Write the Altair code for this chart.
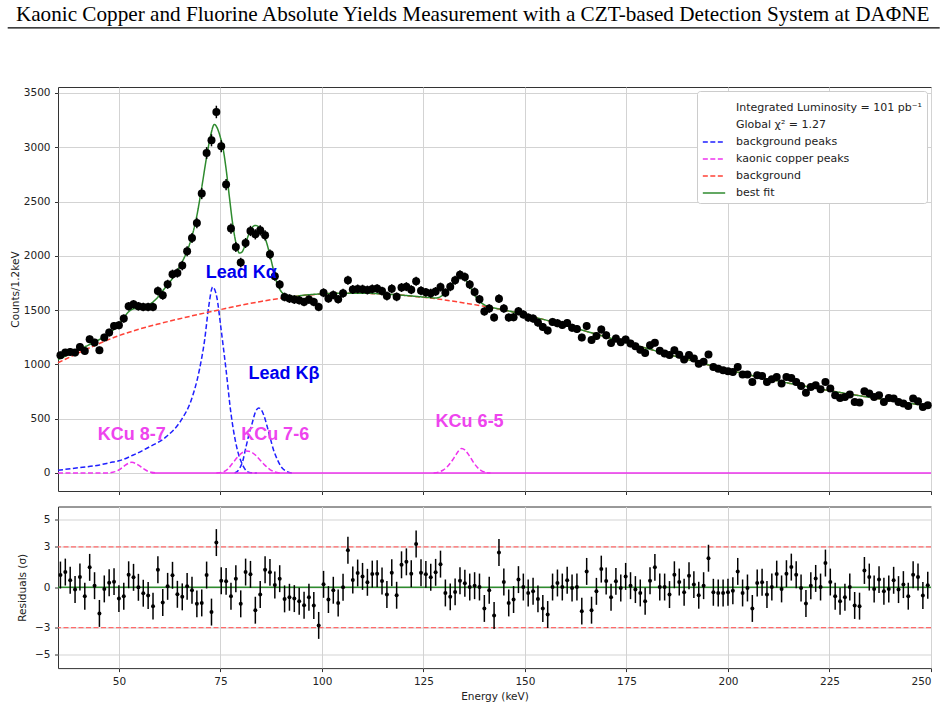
import altair as alt
import pandas as pd

# ---------------- data ----------------
energy = [35.6, 36.8, 38.0, 39.2, 40.4, 41.6, 42.8, 44.0, 45.2, 46.4,
          47.6, 48.8, 50.0, 51.2, 52.4, 53.6, 54.8, 56.0, 57.2, 58.4,
          59.6, 60.8, 62.0, 63.2, 64.4, 65.6, 66.8, 68.0, 69.2, 70.4,
          71.6, 72.8, 74.0, 75.2, 76.4, 77.6, 78.8, 80.0, 81.2, 82.4,
          83.6, 84.8, 86.0, 87.2, 88.4, 89.6, 90.8, 92.0, 93.2, 94.4,
          95.6, 96.8, 98.0, 99.2, 100.4, 101.6, 102.8, 104.0, 105.2, 106.4,
          107.6, 108.8, 110.0, 111.2, 112.4, 113.6, 114.8, 116.0, 117.2, 118.4,
          119.6, 120.8, 122.0, 123.2, 124.4, 125.6, 126.8, 128.0, 129.2, 130.4,
          131.6, 132.8, 134.0, 135.2, 136.4, 137.6, 138.8, 140.0, 141.2, 142.4,
          143.6, 144.8, 146.0, 147.2, 148.4, 149.6, 150.8, 152.0, 153.2, 154.4,
          155.6, 156.8, 158.0, 159.2, 160.4, 161.6, 162.8, 164.0, 165.2, 166.4,
          167.6, 168.8, 170.0, 171.2, 172.4, 173.6, 174.8, 176.0, 177.2, 178.4,
          179.6, 180.8, 182.0, 183.2, 184.4, 185.6, 186.8, 188.0, 189.2, 190.4,
          191.6, 192.8, 194.0, 195.2, 196.4, 197.6, 198.8, 200.0, 201.2, 202.4,
          203.6, 204.8, 206.0, 207.2, 208.4, 209.6, 210.8, 212.0, 213.2, 214.4,
          215.6, 216.8, 218.0, 219.2, 220.4, 221.6, 222.8, 224.0, 225.2, 226.4,
          227.6, 228.8, 230.0, 231.2, 232.4, 233.6, 234.8, 236.0, 237.2, 238.4,
          239.6, 240.8, 242.0, 243.2, 244.4, 245.6, 246.8, 248.0, 249.2]

counts = [1084, 1109, 1115, 1109, 1161, 1124, 1231, 1201, 1130, 1247,
          1293, 1354, 1360, 1422, 1535, 1554, 1535, 1529, 1529, 1529,
          1676, 1636, 1738, 1830, 1842, 1910, 2042, 2164, 2303, 2573,
          2947, 3064, 3325, 3009, 2656, 2251, 2081, 1938, 2118, 2229,
          2198, 2235, 2189, 2014, 1812, 1735, 1621, 1606, 1597, 1591,
          1575, 1597, 1575, 1529, 1660, 1608, 1640, 1600, 1655, 1775,
          1690, 1695, 1693, 1685, 1695, 1698, 1675, 1630, 1697, 1622,
          1708, 1716, 1688, 1766, 1678, 1664, 1655, 1672, 1712, 1660,
          1715, 1775, 1825, 1805, 1735, 1668, 1600, 1488, 1514, 1432,
          1605, 1514, 1431, 1435, 1490, 1460, 1431, 1422, 1385, 1345,
          1312, 1391, 1380, 1364, 1381, 1338, 1325, 1248, 1354, 1225,
          1262, 1321, 1268, 1197, 1238, 1205, 1229, 1192, 1167, 1136,
          1105, 1176, 1200, 1125, 1100, 1086, 1130, 1090, 1045, 1086,
          1054, 1006, 1025, 1091, 976, 960, 946, 937, 930, 976,
          906, 906, 838, 900, 893, 838, 863, 884, 823, 884,
          875, 838, 801, 740, 792, 808, 771, 838, 777, 716,
          691, 700, 722, 654, 648, 752, 731, 700, 716, 654,
          691, 685, 654, 639, 617, 685, 660, 608, 623]

residuals = [0.91, 1.13, 0.52, -0.17, 0.76, -0.66, 1.48, 0.12, -1.94, -0.12,
             0.34, 0.42, -0.84, -0.66, 0.93, 0.74, 0.00, -0.44, -0.61, -1.40,
             1.30, -1.13, 0.07, 0.89, -0.52, -0.71, 0.07, -0.22, -1.23, -1.16,
             0.91, -1.84, 3.32, 0.49, 0.44, -0.66, 0.64, -1.23, 1.13, 0.96,
             -1.70, -0.54, 1.30, 1.11, 0.17, 0.64, -0.86, -0.74, -0.84, -1.03,
             -1.33, -0.74, -1.35, -2.83, 0.22, -0.91, -0.22, -1.16, 0.00, 2.75,
             0.54, 1.06, 0.81, 0.37, 0.98, 1.01, 0.47, -0.54, 1.08, -0.59,
             1.67, 1.89, 1.01, 3.22, 1.08, 0.96, 0.74, 1.11, 1.72, -0.42,
             -0.71, -0.34, 0.49, 0.30, 0.02, 0.12, 0.02, -1.57, -0.22, -2.09,
             2.58, 0.39, -1.16, -0.91, 0.57, 0.02, -0.42, -0.30, -0.86, -1.57,
             -2.02, 0.02, 0.32, 0.02, 0.52, -0.05, 0.02, -1.77, 1.18, -1.70,
             -0.30, 1.35, 0.47, -0.74, 0.44, -0.05, 0.81, 0.12, -0.17, -0.42,
             -1.03, 0.49, 1.48, 0.02, 0.02, -0.54, 0.93, 0.39, -0.37, 0.86,
             0.20, -0.59, 0.12, 2.16, -0.37, -0.42, -0.42, -0.37, -0.25, 1.18,
             -0.42, -0.05, -1.57, 0.32, 0.37, -0.54, 0.02, 0.98, -0.12, 1.01,
             1.50, 0.93, -0.05, -1.20, 0.12, 0.66, 0.02, 1.80, 0.39, -0.66,
             -1.03, -0.74, 0.02, -1.35, -1.40, 1.25, 0.76, -0.12, 0.57, -0.30,
             -0.12, 0.52, -0.17, 0.20, -0.66, 0.93, 0.76, -0.61, 0.15]

# fitted curves
bg_E = [35, 40, 45, 50, 55, 60, 65, 70, 75, 80, 85, 90, 95, 100, 105, 110, 115,
        120, 125, 130, 135, 140, 145, 150, 155, 160, 165, 170, 175, 180, 185,
        190, 195, 200, 205, 210, 215, 220, 225, 230, 235, 240, 245, 250]
bg_c = [1015, 1105, 1190, 1265, 1325, 1375, 1421, 1464, 1505, 1545, 1580, 1610,
        1633, 1648, 1655, 1655, 1648, 1636, 1618, 1595, 1566, 1535, 1500, 1456,
        1410, 1358, 1306, 1253, 1200, 1148, 1095, 1045, 997, 950, 905, 865, 827,
        792, 758, 726, 696, 667, 640, 613]

fit_E = [35, 37.5, 40, 42.5, 45, 47.5, 50, 51.2, 52.4, 53.6, 54.8, 56, 57.2, 58.4,
         59.6, 60.8, 62, 63.2, 64.4, 65.6, 66.8, 68, 69.2, 70.4, 71.6, 72.6, 73.5,
         74.3, 75.0, 75.6, 76.4, 77.2, 78.0, 78.6, 79.2, 79.7, 80.3, 81.0, 81.8,
         82.7, 83.6, 84.5, 85.5, 86.3, 87.1, 88.0, 88.7, 89.5, 90.4, 91.5, 93, 95,
         100, 105, 110, 115, 120, 125, 127, 128, 129, 130, 131, 132, 133, 134,
         134.5, 135.3, 136.3, 137.3, 138.3, 139.3, 140.3, 141.5, 143, 145, 150,
         155, 160, 165, 170, 175, 180, 185, 190, 195, 200, 205, 210, 215, 220,
         225, 230, 235, 240, 245, 250]
fit_c = [1045, 1088, 1133, 1178, 1225, 1280, 1370, 1430, 1485, 1512, 1518, 1528,
         1545, 1575, 1620, 1678, 1735, 1792, 1864, 1945, 2045, 2180, 2370, 2630,
         2910, 3110, 3210, 3170, 3090, 3000, 2800, 2545, 2300, 2160, 2060, 2025,
         2035, 2090, 2180, 2255, 2280, 2265, 2205, 2130, 2020, 1880, 1775, 1700,
         1652, 1628, 1625, 1635, 1650, 1656, 1656, 1649, 1637, 1620, 1614, 1612,
         1620, 1645, 1682, 1730, 1775, 1798, 1800, 1780, 1728, 1660, 1602, 1565,
         1543, 1528, 1515, 1500, 1456, 1410, 1358, 1306, 1253, 1200, 1148, 1095,
         1045, 997, 950, 905, 865, 827, 792, 758, 726, 696, 667, 640, 613]

ka_E = [35, 40, 45, 48.5, 50, 53.4, 57.5, 61.6, 65.3, 67.8, 69.8, 71.1, 72.1,
        73.1, 74.1, 75.2, 76.4, 77.6, 79.0, 80.5, 82.1, 84]
ka_c = [25, 48, 72, 101, 112, 163, 240, 332, 485, 670, 946, 1222, 1529,
        1713, 1621, 1314, 946, 547, 240, 71, 5, 0]

kb_E = [78.5, 79.7, 80.5, 81.3, 82.0, 82.8, 83.6, 84.4, 85.1, 85.8, 86.5, 87.2,
        88.1, 89.1, 90.1, 91.1, 92.6]
kb_c = [0, 40, 110, 240, 350, 455, 560, 599, 580, 520, 430, 332, 210, 117, 50,
        18, 0]

cu87_E = [35, 47.5, 48.5, 49.5, 50.5, 51.5, 52.5, 53.2, 54.0, 55.0, 56.0, 57.0,
          58.0, 59.3]
cu87_c = [0, 0, 6, 18, 40, 70, 92, 98, 90, 68, 40, 18, 6, 0]

cu76_E = [74.0, 75.5, 76.8, 78.0, 79.2, 80.3, 81.4, 82.5, 83.6, 84.8, 86.0,
          87.2, 88.4, 89.6]
cu76_c = [0, 8, 35, 90, 145, 185, 203, 195, 165, 118, 70, 32, 10, 0]

cu65_E = [127.5, 128.7, 129.8, 130.8, 131.8, 132.8, 133.7, 134.4, 135.2, 136.2,
          137.2, 138.2, 139.2, 140.3, 141.5]
cu65_c = [0, 8, 25, 55, 100, 155, 205, 225, 212, 165, 105, 55, 22, 6, 0]

zero_E = [58, 250]
zero_c = [0, 0]

ann_blue_text = ["Lead K\u03b1", "Lead K\u03b2"]
ann_blue_E = [71.4, 81.9]
ann_blue_c = [1793, 866]
ann_mag_text = ["KCu 8-7", "KCu 7-6", "KCu 6-5"]
ann_mag_E = [44.8, 80.1, 128.0]
ann_mag_c = [301, 301, 424]

resid_lines = [3, -3]
header_text = ("Kaonic Copper and Fluorine Absolute Yields Measurement with a "
               "CZT-based Detection System at DA\u03a6NE")
info_lines = ["Integrated Luminosity = 101 pb\u207b\u00b9", "Global \u03c7\u00b2 = 1.27"]

# ---------------- styling ----------------
BLUE = "#1f1fff"
MAG = "#ee33ee"
RED = "#ff4136"
GREEN = "#2e8b2e"
series_domain = info_lines + ["background peaks", "kaonic copper peaks",
                              "background", "best fit"]
series_colors = ["transparent", "transparent", BLUE, MAG, RED, GREEN]
series_dash = [[1, 0], [1, 0], [5, 2.5], [5, 2.5], [5, 2.5], [1, 0]]

W = 873
H_TOP = 404
H_BOT = 161.6

xticks = [50, 75, 100, 125, 150, 175, 200, 225, 250]
xscale = alt.Scale(domain=[35, 250], nice=False, zero=False)
yscale = alt.Scale(domain=[-166, 3555], nice=False, zero=False)
rscale = alt.Scale(domain=[-6, 6], nice=False, zero=False)

x_top_axis = alt.Axis(values=xticks, labels=False, title=None, grid=True,
                      tickSize=3.5)
y_top_axis = alt.Axis(values=[0, 500, 1000, 1500, 2000, 2500, 3000, 3500],
                      format="d", title="Counts/1.2keV", grid=True,
                      labelPadding=4.5, titlePadding=3, tickSize=3.5)

legend = alt.Legend(title=None, orient="top-right", offset=4)


def curve(name, series, E, c):
    return pd.DataFrame({"E": E, "c": c, "series": series, "curve": name})


peaks_df = pd.concat([
    curve("ka", "background peaks", ka_E, ka_c),
    curve("kb", "background peaks", kb_E, kb_c),
    curve("cu87", "kaonic copper peaks", cu87_E, cu87_c),
    curve("cu76", "kaonic copper peaks", cu76_E, cu76_c),
    curve("cu65", "kaonic copper peaks", cu65_E, cu65_c),
], ignore_index=True)
bg_df = curve("bg", "background", bg_E, bg_c)
fit_df = curve("fit", "best fit", fit_E, fit_c)
zero_df = pd.DataFrame({"E": zero_E, "c": zero_c})
spec_df = pd.DataFrame({"E": energy, "c": counts})
res_df = pd.DataFrame({"E": energy, "r": residuals})


def line_layer(df):
    return alt.Chart(df).mark_line(strokeWidth=1.5, interpolate="monotone").encode(
        x=alt.X("E:Q", scale=xscale, axis=x_top_axis),
        y=alt.Y("c:Q", scale=yscale, axis=y_top_axis),
        color=alt.Color("series:N",
                        scale=alt.Scale(domain=series_domain, range=series_colors),
                        legend=legend),
        strokeDash=alt.StrokeDash("series:N",
                                  scale=alt.Scale(domain=series_domain, range=series_dash),
                                  legend=legend),
        detail="curve:N",
    )


header = alt.Chart(pd.DataFrame({"t": [header_text]})).mark_text(
    font="Liberation Serif", fontSize=21.2, align="center", baseline="alphabetic",
    color="black"
).encode(x=alt.value(414.7), y=alt.value(-65.7), text="t:N")

header_rule = alt.Chart(pd.DataFrame({"a": [0]})).mark_rule(
    color="black", strokeWidth=1.2
).encode(x=alt.value(-50.3), x2=alt.value(881.7), y=alt.value(-59.2))

zero_line = alt.Chart(zero_df).mark_line(color=MAG, strokeWidth=1.5).encode(
    x=alt.X("E:Q", scale=xscale, axis=x_top_axis),
    y=alt.Y("c:Q", scale=yscale, axis=y_top_axis),
)

err_top = alt.Chart(spec_df).transform_calculate(
    lo="datum.c - sqrt(datum.c)", hi="datum.c + sqrt(datum.c)"
).mark_rule(color="black", strokeWidth=1.5).encode(
    x=alt.X("E:Q", scale=xscale, axis=x_top_axis),
    y=alt.Y("lo:Q", scale=yscale, axis=y_top_axis),
    y2="hi:Q",
)

pts_top = alt.Chart(spec_df).mark_circle(size=64, color="black", opacity=1).encode(
    x=alt.X("E:Q", scale=xscale, axis=x_top_axis),
    y=alt.Y("c:Q", scale=yscale, axis=y_top_axis),
)

ann_blue = alt.Chart(pd.DataFrame({"E": ann_blue_E, "c": ann_blue_c, "t": ann_blue_text})).mark_text(
    font="Liberation Sans", fontWeight="bold", fontSize=18, align="left",
    baseline="alphabetic", color="#0000ee"
).encode(x=alt.X("E:Q", scale=xscale, axis=x_top_axis),
         y=alt.Y("c:Q", scale=yscale, axis=y_top_axis), text="t:N")

ann_mag = alt.Chart(pd.DataFrame({"E": ann_mag_E, "c": ann_mag_c, "t": ann_mag_text})).mark_text(
    font="Liberation Sans", fontWeight="bold", fontSize=18, align="left",
    baseline="alphabetic", color="#ee44ee"
).encode(x=alt.X("E:Q", scale=xscale, axis=x_top_axis),
         y=alt.Y("c:Q", scale=yscale, axis=y_top_axis), text="t:N")

top = alt.layer(
    header, header_rule,
    line_layer(peaks_df), line_layer(bg_df), zero_line, line_layer(fit_df),
    err_top, pts_top, ann_blue, ann_mag,
).properties(width=W, height=H_TOP)

# ---------------- residual panel ----------------
x_bot_axis = alt.Axis(values=xticks, title="Energy (keV)", grid=True,
                      tickSize=3.5, labelPadding=5, titlePadding=4)
y_bot_axis = alt.Axis(values=[-5, -3, 0, 3, 5], title="Residuals (\u03c3)", grid=True,
                      tickSize=3.5, labelPadding=4.5, titlePadding=7)

ref3 = alt.Chart(pd.DataFrame({"r": resid_lines})).mark_rule(
    color="#ff6a6a", strokeDash=[5, 2.5], strokeWidth=1.3
).encode(y=alt.Y("r:Q", scale=rscale, axis=y_bot_axis))

ref0 = alt.Chart(pd.DataFrame({"r": [0]})).mark_rule(
    color=GREEN, strokeWidth=1.5
).encode(y=alt.Y("r:Q", scale=rscale, axis=y_bot_axis))

err_bot = alt.Chart(res_df).transform_calculate(
    lo="datum.r - 1", hi="datum.r + 1"
).mark_rule(color="black", strokeWidth=1.5).encode(
    x=alt.X("E:Q", scale=xscale, axis=x_bot_axis),
    y=alt.Y("lo:Q", scale=rscale, axis=y_bot_axis),
    y2="hi:Q",
)

pts_bot = alt.Chart(res_df).mark_circle(size=16, color="black", opacity=1).encode(
    x=alt.X("E:Q", scale=xscale, axis=x_bot_axis),
    y=alt.Y("r:Q", scale=rscale, axis=y_bot_axis),
)

bottom = alt.layer(ref3, ref0, err_bot, pts_bot).properties(width=W, height=H_BOT)

chart = alt.vconcat(top, bottom, spacing=9.5).properties(
    padding={"left": 6, "top": 3, "right": 4, "bottom": 4}
).configure_view(
    stroke="#333333", strokeWidth=1
).configure_axis(
    labelFont="DejaVu Sans", labelFontSize=10.5, labelColor="#222222",
    titleFont="DejaVu Sans", titleFontSize=10.5, titleFontWeight="normal",
    titleColor="#222222", gridColor="#d3d3d3", gridWidth=1,
    tickColor="#333333", domain=False
).configure_legend(
    labelFont="DejaVu Sans", labelFontSize=11, labelColor="#222222",
    labelOffset=10, labelLimit=400,
    symbolType="stroke", symbolSize=500, symbolStrokeWidth=1.5,
    rowPadding=-4, padding=5, fillColor="white", strokeColor="#cccccc",
    cornerRadius=3
)

chart.save("out.html", embed_options={"renderer": "svg", "actions": False})
